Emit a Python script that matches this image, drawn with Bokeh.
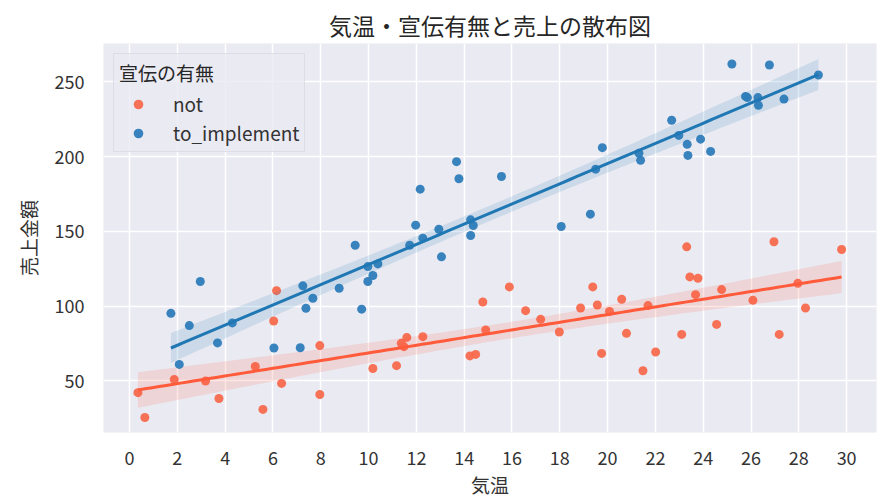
import numpy as np
from bokeh.plotting import figure
from bokeh.models import FixedTicker, Legend, LegendItem
from bokeh.embed import file_html
from bokeh.resources import INLINE

# --- data ---
groups = ["not", "to_implement"]

not_temp = [0.35, 0.64, 1.87, 3.18, 3.74, 5.26, 5.58, 6.15, 6.03, 6.36, 7.96, 7.96,
            10.18, 11.17, 11.37, 11.48, 11.60, 12.27, 14.24, 14.48, 14.78, 14.90,
            15.89, 16.57, 17.20, 17.98, 18.87, 19.38, 19.57, 19.75, 20.08, 20.59,
            20.79, 21.48, 21.69, 22.01, 23.10, 23.31, 23.44, 23.68, 23.78, 24.56,
            24.77, 26.08, 26.96, 27.18, 27.96, 28.28, 29.79]
not_sales = [42.0, 25.4, 50.9, 49.8, 38.1, 59.6, 30.8, 110.3, 90.0, 48.2, 73.5, 40.8,
             58.2, 60.1, 75.0, 72.8, 79.0, 79.5, 66.6, 67.6, 102.7, 84.0,
             112.8, 96.9, 91.1, 82.6, 98.7, 112.8, 100.7, 68.3, 96.4, 104.5,
             81.7, 56.7, 100.3, 69.2, 81.0, 139.6, 119.5, 107.6, 118.6, 87.7,
             111.0, 103.8, 143.0, 81.0, 115.2, 98.7, 137.8]

impl_temp = [1.73, 2.08, 2.50, 2.96, 3.68, 4.30, 6.04, 7.14, 7.25, 7.38, 7.67, 8.77,
             9.44, 9.71, 9.97, 9.97, 10.18, 10.39, 11.72, 11.97, 12.16, 12.27, 12.94,
             13.05, 13.68, 13.78, 14.27, 14.38, 14.27, 15.56, 18.06, 19.28, 19.50,
             19.78, 21.31, 21.38, 22.68, 22.98, 23.33, 23.36, 23.89, 24.31, 25.20,
             25.77, 25.85, 26.29, 26.31, 26.77, 27.38, 28.82]
impl_sales = [95.1, 60.9, 86.9, 116.4, 75.3, 88.7, 71.9, 72.1, 113.5, 98.5, 105.2, 111.9,
              140.7, 97.9, 126.4, 116.4, 120.4, 128.2, 140.7, 154.1, 178.2, 145.4, 151.4,
              132.9, 196.6, 185.2, 157.7, 153.9, 147.2, 186.7, 153.2, 161.5, 191.6,
              206.0, 202.3, 197.5, 224.3, 214.2, 208.2, 200.8, 211.7, 203.5, 262.0,
              240.3, 239.5, 239.5, 234.3, 261.3, 238.5, 254.6]

x_ticks = [0, 2, 4, 6, 8, 10, 12, 14, 16, 18, 20, 22, 24, 26, 28, 30]
y_ticks = [50, 100, 150, 200, 250]

title_text = "気温・宣伝有無と売上の散布図"
x_label = "気温"
y_label = "売上金額"
legend_title = "宣伝の有無"

FONT = "Noto Sans CJK JP"


def fit_with_ci(x, y, n_pts=100):
    x = np.asarray(x, dtype=float)
    y = np.asarray(y, dtype=float)
    n = len(x)
    slope, intercept = np.polyfit(x, y, 1)
    xs = np.linspace(x.min(), x.max(), n_pts)
    yhat = intercept + slope * xs
    resid = y - (intercept + slope * x)
    s = np.sqrt(np.sum(resid ** 2) / (n - 2))
    sxx = np.sum((x - x.mean()) ** 2)
    se = s * np.sqrt(1.0 / n + (xs - x.mean()) ** 2 / sxx)
    t = 2.01
    return xs, yhat, yhat - t * se, yhat + t * se


p = figure(width=887, height=502, output_backend="svg", toolbar_location=None,
           x_range=(-1.09, 31.25), y_range=(15.35, 275.7),
           min_border_left=103, min_border_right=11, min_border_top=43,
           min_border_bottom=70)

p.background_fill_color = "#EAEAF2"
p.border_fill_color = "white"
p.outline_line_color = None

p.title.text = title_text
p.title.align = "center"
p.title.text_font = FONT
p.title.text_font_size = "23px"
p.title.text_font_style = "normal"
p.title.text_color = "#262626"
p.title.standoff = 4

for ax in (p.xaxis, p.yaxis):
    ax.axis_line_color = None
    ax.major_tick_line_color = None
    ax.minor_tick_line_color = None
    ax.major_tick_in = 0
    ax.major_tick_out = 0
    ax.major_label_text_font = FONT
    ax.major_label_text_font_size = "18px"
    ax.major_label_text_color = "#333333"
    ax.axis_label_text_font = FONT
    ax.axis_label_text_font_size = "19px"
    ax.axis_label_text_font_style = "normal"
    ax.axis_label_text_color = "#333333"

p.xaxis.ticker = FixedTicker(ticks=x_ticks)
p.yaxis.ticker = FixedTicker(ticks=y_ticks)
p.xaxis.axis_label = x_label
p.yaxis.axis_label = y_label
p.xaxis.major_label_standoff = 18
p.yaxis.major_label_standoff = 19
p.xaxis.axis_label_standoff = 3
p.yaxis.axis_label_standoff = 10

p.xgrid.ticker = FixedTicker(ticks=x_ticks)
p.ygrid.ticker = FixedTicker(ticks=y_ticks)
p.grid.grid_line_color = "white"
p.grid.grid_line_width = 1.5

series = [
    (groups[0], not_temp, not_sales, "#F86A4D", "#FF5A3A"),
    (groups[1], impl_temp, impl_sales, "#2E7DBA", "#1F77B4"),
]

items = []
for name, xt, ys, pt_color, line_color in series:
    sc = p.scatter(x=xt, y=ys, size=9, marker="circle", fill_color=pt_color,
                   line_color=None, fill_alpha=0.95)
    xs, yhat, lo, hi = fit_with_ci(xt, ys)
    p.varea(x=xs, y1=lo, y2=hi, fill_color=line_color, fill_alpha=0.15)
    p.line(x=xs, y=yhat, line_color=line_color, line_width=3)
    items.append(LegendItem(label=name, renderers=[sc]))

legend = Legend(items=items, location="top_left")
legend.title = legend_title
legend.title_text_font = FONT
legend.title_text_font_size = "19px"
legend.title_text_font_style = "normal"
legend.title_text_color = "#262626"
legend.title_standoff = 4
legend.label_text_font = FONT
legend.label_text_font_size = "19px"
legend.label_text_color = "#333333"
legend.background_fill_color = "#EAEAF2"
legend.background_fill_alpha = 0.8
legend.border_line_color = "#D0D0D8"
legend.border_line_width = 1
legend.margin = 10
legend.padding = 5
legend.glyph_width = 38
legend.glyph_height = 24
legend.label_height = 24
legend.label_standoff = 16
legend.spacing = 2
p.add_layout(legend)

open("out.html", "w").write(file_html(p, INLINE))
